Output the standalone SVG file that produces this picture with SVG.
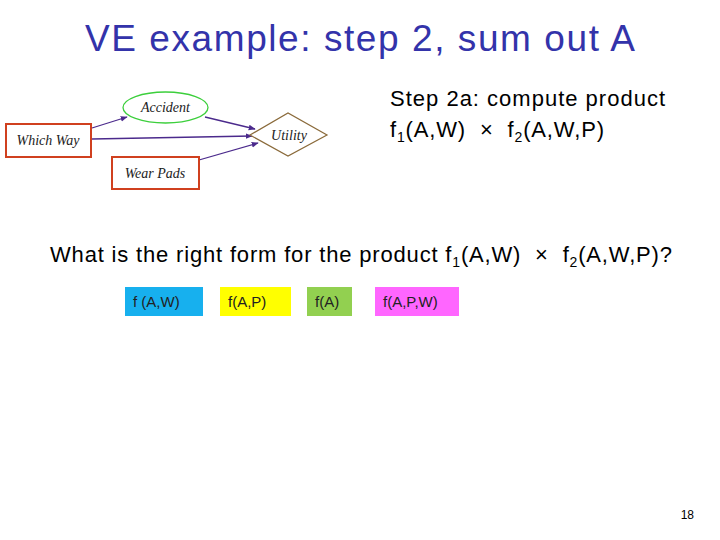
<svg xmlns="http://www.w3.org/2000/svg" width="720" height="540" viewBox="0 0 720 540">
<style>
.sans{font-family:"Liberation Sans",Arial,sans-serif;fill:#000}
.serif{font-family:"Liberation Serif","Times New Roman",serif;font-style:italic;font-size:14px;fill:#222}
.box{fill:#fff;stroke:#d0401f;stroke-width:2}
.edge{stroke:#4b2a8c;stroke-width:1.3;fill:none;marker-end:url(#ah)}
.fb{font-family:"Liberation Sans",Arial,sans-serif;font-size:15px;fill:#222}
</style>
<defs>
<marker id="ah" viewBox="0 0 10 10" refX="9" refY="5" markerWidth="7" markerHeight="7" orient="auto" markerUnits="userSpaceOnUse">
<path d="M0,1 L10,5 L0,9 z" fill="#4b2a8c"/>
</marker>
</defs>
<rect width="720" height="540" fill="#fff"/>
<text class="sans" x="85" y="51" font-size="37" style="fill:#3333aa" textLength="550" lengthAdjust="spacing">VE example: step 2, sum out A</text>
<g id="connectors">
<line class="edge" x1="92" y1="128" x2="127" y2="117"/>
<line class="edge" x1="205" y1="117" x2="255" y2="129"/>
<line class="edge" x1="92" y1="139" x2="252" y2="136"/>
<line class="edge" x1="199" y1="160" x2="258" y2="143"/>
</g>
<g id="accident">
<ellipse cx="165.5" cy="107.5" rx="42.5" ry="15.5" fill="#fff" stroke="#3ccf3c" stroke-width="1.3"/>
<text class="serif" x="165.5" y="112" text-anchor="middle">Accident</text>
</g>
<g id="whichway">
<rect class="box" x="6" y="124" width="85" height="33"/>
<text class="serif" x="48" y="145" text-anchor="middle">Which Way</text>
</g>
<g id="wearpads">
<rect class="box" x="112" y="157" width="87" height="32"/>
<text class="serif" x="155" y="178" text-anchor="middle">Wear Pads</text>
</g>
<g id="utility">
<polygon points="250,135 288,113 327,135 288,156" fill="#fff" stroke="#8a6a3a" stroke-width="1.2"/>
<text class="serif" x="289" y="140" text-anchor="middle">Utility</text>
</g>
<text class="sans" x="390" y="106" font-size="22" textLength="275" lengthAdjust="spacing">Step 2a: compute product</text>
<text class="sans" x="390" y="137" font-size="22" textLength="214" lengthAdjust="spacing">f<tspan font-size="14" dy="5">1</tspan><tspan dy="-5">(A,W)&#160; ×&#160; f</tspan><tspan font-size="14" dy="5">2</tspan><tspan dy="-5">(A,W,P)</tspan></text>
<text class="sans" x="50" y="262" font-size="22" textLength="622" lengthAdjust="spacing">What is the right form for the product f<tspan font-size="14" dy="5">1</tspan><tspan dy="-5">(A,W)&#160; ×&#160; f</tspan><tspan font-size="14" dy="5">2</tspan><tspan dy="-5">(A,W,P)?</tspan></text>
<g id="opt1"><rect x="125" y="287" width="78" height="29" fill="#17b0ee"/><text class="fb" x="133" y="307">f (A,W)</text></g>
<g id="opt2"><rect x="220" y="287" width="71" height="29" fill="#ffff00"/><text class="fb" x="228" y="307">f(A,P)</text></g>
<g id="opt3"><rect x="307" y="287" width="45" height="29" fill="#92d050"/><text class="fb" x="315" y="307">f(A)</text></g>
<g id="opt4"><rect x="375" y="287" width="84" height="29" fill="#ff66ff"/><text class="fb" x="383" y="307">f(A,P,W)</text></g>
<text class="sans" x="694" y="519" font-size="12" text-anchor="end">18</text>
</svg>
